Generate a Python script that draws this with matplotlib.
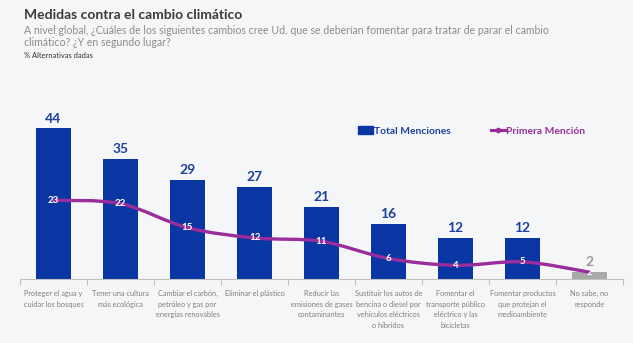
import matplotlib.pyplot as plt
from matplotlib.path import Path
from matplotlib.patches import PathPatch, Patch
from matplotlib.lines import Line2D

plt.rcParams['font.family'] = ['Lato', 'DejaVu Sans']

categories = [
    "Proteger el agua y\ncuidar los bosques",
    "Tener una cultura\nmás ecológica",
    "Cambiar el carbón,\npetróleo y gas por\nenergías renovables",
    "Eliminar el plástico",
    "Reducir las\nemisiones de gases\ncontaminantes",
    "Sustituir los autos de\nbencina o diesel por\nvehículos eléctricos\no híbridos",
    "Fomentar el\ntransporte público\neléctrico y las\nbicicletas",
    "Fomentar productos\nque protejan el\nmedioambiente",
    "No sabe, no\nresponde",
]
total = [44, 35, 29, 27, 21, 16, 12, 12, 2]
primera = [23, 22, 15, 12, 11, 6, 4, 5, 2]

blue = '#0a36a3'
label_blue = '#1d3f9e'
gray = '#a9a9a9'
purple = '#9a2c9c'
bg = '#f5f6f8'

fig = plt.figure(figsize=(6.33, 3.43), dpi=100, facecolor=bg)
ax = fig.add_axes([20 / 633, 64 / 343, 603 / 633, 178 / 343])
ax.set_facecolor(bg)

x = list(range(len(categories)))
colors = [blue] * (len(x) - 1) + [gray]
ax.bar(x, total, width=0.51, color=colors, zorder=2)

for xi, v, c in zip(x, total, colors):
    tc = label_blue if c == blue else '#9a9a9a'
    ax.text(xi, v + 1.1, str(v), ha='center', va='bottom', fontsize=10,
            fontweight='bold', color=tc)

# smoothed line (Excel style, catmull-rom -> bezier)
pts = list(zip(x, primera))
verts = [pts[0]]
codes = [Path.MOVETO]
for i in range(len(pts) - 1):
    p0 = pts[i - 1] if i > 0 else pts[i]
    p1 = pts[i]
    p2 = pts[i + 1]
    p3 = pts[i + 2] if i + 2 < len(pts) else pts[i + 1]
    c1 = (p1[0] + (p2[0] - p0[0]) / 6, p1[1] + (p2[1] - p0[1]) / 6)
    c2 = (p2[0] - (p3[0] - p1[0]) / 6, p2[1] - (p3[1] - p1[1]) / 6)
    verts += [c1, c2, p2]
    codes += [Path.CURVE4] * 3
ax.add_patch(PathPatch(Path(verts, codes), facecolor='none', edgecolor=purple,
                       lw=2.4, zorder=3, capstyle='round'))

for xi, v in zip(x, primera):
    ax.text(xi, v, str(v), ha='center', va='center', fontsize=7,
            fontweight='bold', color='white', zorder=4)

ax.set_xlim(-0.5, len(x) - 0.5)
ax.set_ylim(0, 52)
ax.set_yticks([])
for s in ['top', 'right', 'left']:
    ax.spines[s].set_visible(False)
ax.spines['bottom'].set_color('#c0c0c0')
ax.spines['bottom'].set_linewidth(0.8)
ax.set_xticks([i - 0.5 for i in range(len(x) + 1)])
ax.set_xticklabels([])
ax.tick_params(axis='x', length=4, color='#c0c0c0', width=0.8)

for xi, lab in zip(x, categories):
    ax.text(xi, -3.2, lab, ha='center', va='top', fontsize=5.3,
            color='#7f7f7f', linespacing=1.6)

handles = [Patch(color=blue),
           Line2D([0], [0], color=purple, lw=2.2, marker='o', markersize=3)]
fig.legend(handles, ['Total Menciones', 'Primera Mención'], loc='center left',
           bbox_to_anchor=(349 / 633, 212 / 343), ncol=2, frameon=False,
           prop={'weight': 'bold', 'size': 7.4},
           labelcolor=[label_blue, purple], handlelength=1.4,
           handleheight=0.7, handletextpad=0.1, columnspacing=3.9)

fig.text(24 / 633, 1 - 15 / 343, 'Medidas contra el cambio climático',
         fontsize=10, fontweight='bold', color='#3a3a3a', va='center')
fig.text(24 / 633, 1 - 30 / 343,
         'A nivel global, ¿Cuáles de los siguientes cambios cree Ud. que se deberían fomentar para tratar de parar el cambio',
         fontsize=7.6, color='#8c8c8c', va='center')
fig.text(24 / 633, 1 - 43 / 343, 'climático? ¿Y en segundo lugar?',
         fontsize=7.6, color='#8c8c8c', va='center')
fig.text(24 / 633, 1 - 55 / 343, '% Alternativas dadas',
         fontsize=5.4, color='#333333', va='center')

fig.savefig('out.png', dpi=100, facecolor=bg)
